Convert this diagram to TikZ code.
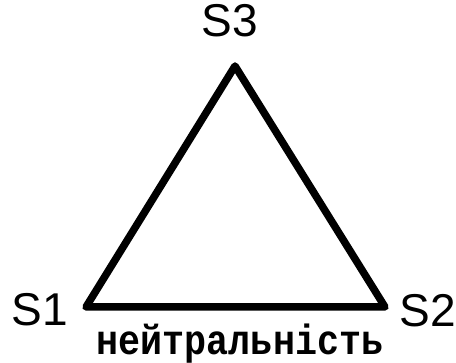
\documentclass[tikz,border=0pt]{standalone}
\usepackage{fontspec}
\setmainfont{Liberation Sans}
\newfontfamily\monofont{Liberation Mono}
\begin{document}
\begin{tikzpicture}[x=1pt, y=-1pt, every node/.style={font=\fontsize{46}{46}\selectfont, inner sep=0pt, anchor=base},
  side/.style={line width=7.5pt, line join=round}]
\useasboundingbox (0,0) rectangle (456,363);
\coordinate (v1) at (86,307);
\coordinate (v2) at (385,307);
\coordinate (v3) at (235,66);
\draw[side] (v1)--(v2)--(v3)--cycle;
\node (s1) at (40,326) {S1};
\node (s2) at (428,327) {S2};
\node (s3) at (230,37) {S3};
\node[font=\monofont\bfseries\fontsize{36.7}{36.7}\selectfont] (neutr) at (240,355) {\scalebox{1}[1.15]{нейтральність}};
\end{tikzpicture}
\end{document}
